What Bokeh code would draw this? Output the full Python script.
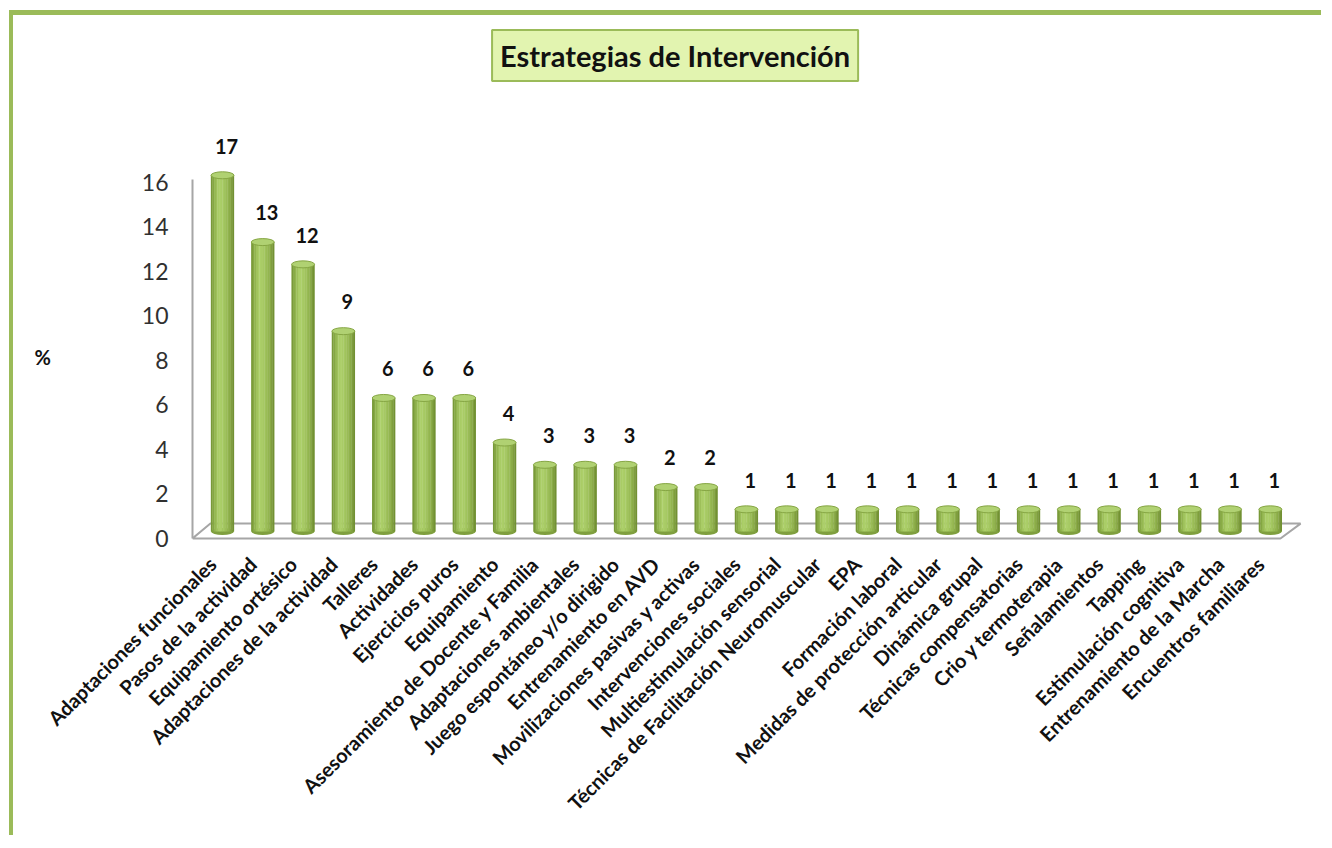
import numpy as np
from bokeh.plotting import figure
from bokeh.models import Range1d, FixedTicker, Label
from bokeh.core.properties import value
from bokeh.embed import file_html
from bokeh.resources import INLINE

# ---------------- data ----------------
categories = [
    "Adaptaciones funcionales",
    "Pasos de la actividad",
    "Equipamiento ortésico",
    "Adaptaciones de la actividad",
    "Talleres",
    "Actividades",
    "Ejercicios puros",
    "Equipamiento",
    "Asesoramiento de Docente y Familia",
    "Adaptaciones ambientales",
    "Juego espontáneo y/o dirigido",
    "Entrenamiento en AVD",
    "Movilizaciones pasivas y activas",
    "Intervenciones sociales",
    "Multiestimulación sensorial",
    "Técnicas de Facilitación Neuromuscular",
    "EPA",
    "Formación laboral",
    "Medidas de protección articular",
    "Dinámica grupal",
    "Técnicas compensatorias",
    "Crio y termoterapia",
    "Señalamientos",
    "Tapping",
    "Estimulación cognitiva",
    "Entrenamiento de la Marcha",
    "Encuentros familiares",
]
values = [16, 13, 12, 9, 6, 6, 6, 4, 3, 3, 3, 2, 2,
          1, 1, 1, 1, 1, 1, 1, 1, 1, 1, 1, 1, 1, 1]
value_labels = ["17", "13", "12", "9", "6", "6", "6", "4", "3", "3", "3", "2", "2",
                "1", "1", "1", "1", "1", "1", "1", "1", "1", "1", "1", "1", "1", "1"]
y_ticks = [0, 2, 4, 6, 8, 10, 12, 14, 16]
title_text = "Estrategias de Intervención"
y_label = "%"

# ---------------- style ----------------
GREEN = "#9bbb59"
GRAY = "#a6a6a6"
FONT = "Lato"
BAR_W = 0.57        # cylinder width (x units)
BASE = 0.31         # 3D depth offset of the cylinder base (y units)
CAP_H = 7           # ellipse cap height (px)
LABEL_UP = 1.62     # data label distance above bar (y units)
TICK_SHIFT = 0.25   # category labels sit slightly left of the bar centre

n = len(categories)
pos = np.arange(n, dtype=float)
vals = np.array(values, dtype=float)

p = figure(width=1312, height=825,
           x_range=Range1d(-0.744, 27.12), y_range=Range1d(-0.314, 23.26),
           output_backend="svg", toolbar_location=None,
           min_border_left=179, min_border_right=10,
           min_border_top=5, min_border_bottom=295)
p.styles = {"border-left": "4px solid " + GREEN, "border-top": "5px solid " + GREEN,
            "margin-left": "9px", "margin-top": "10px"}
p.outline_line_color = None
p.xgrid.visible = False
p.ygrid.visible = False
p.background_fill_color = "white"
p.border_fill_color = "white"

# floor of the 3D chart
floor_x = [-0.744, pos[-1] + 0.25, pos[-1] + 0.75, -0.30]
floor_y = [0, 0, 0.67, 0.67]
p.patch(floor_x, floor_y, fill_color=None, line_color=GRAY, line_width=2)

# cylinders
def hex2rgb(h):
    h = h.lstrip("#")
    return np.array([int(h[i:i + 2], 16) for i in (0, 2, 4)], dtype=float)

stops_u = [0.0, 0.15, 0.35, 0.55, 0.8, 1.0]
stops_c = [hex2rgb(c) for c in ["#729232", "#8db04a", "#aed16b", "#a5c862", "#8fb04b", "#6c8a2e"]]

def shade(u):
    rgb = [np.interp(u, stops_u, [c[k] for c in stops_c]) for k in range(3)]
    return "#%02x%02x%02x" % tuple(int(round(v)) for v in rgb)

# bottom cap
p.ellipse(x=pos, y=np.full(n, BASE), width=BAR_W, height=CAP_H,
          height_units="screen", fill_color="#7f9f3e", line_color=None)

N_STRIPES = 14
sw = BAR_W / N_STRIPES
for k in range(N_STRIPES):
    u = (k + 0.5) / N_STRIPES
    p.vbar(x=pos - BAR_W / 2 + sw * (k + 0.5), width=sw * 1.2,
           bottom=BASE, top=vals + BASE,
           fill_color=shade(u), line_color=None)

# top cap
p.ellipse(x=pos, y=vals + BASE, width=BAR_W, height=CAP_H,
          height_units="screen", fill_color="#b0d172", line_color="#86a644", line_width=1)

# value labels
p.text(x=pos, y=vals + LABEL_UP, text=value_labels, x_offset=4,
       text_align="center", text_baseline="middle",
       text_font=value(FONT), text_font_style="bold", text_font_size="20px",
       text_color="#111111")

# axes
tick_pos = [float(x - TICK_SHIFT) for x in pos]
p.xaxis.ticker = FixedTicker(ticks=tick_pos)
p.xaxis.major_label_overrides = {t: c for t, c in zip(tick_pos, categories)}
p.xaxis.major_label_orientation = np.pi / 4
p.xaxis.axis_line_color = None
p.xaxis.major_tick_line_color = None
p.xaxis.minor_tick_line_color = None
p.xaxis.major_tick_out = 0
p.xaxis.major_label_standoff = 15
p.xaxis.major_label_text_font = FONT
p.xaxis.major_label_text_font_style = "bold"
p.xaxis.major_label_text_font_size = "20px"
p.xaxis.major_label_text_color = "#111111"

p.yaxis.ticker = FixedTicker(ticks=y_ticks)
p.yaxis.bounds = (0, 16.1)
p.yaxis.axis_line_color = GRAY
p.yaxis.axis_line_width = 2
p.yaxis.major_tick_line_color = None
p.yaxis.minor_tick_line_color = None
p.yaxis.major_tick_out = 0
p.yaxis.major_tick_in = 0
p.yaxis.major_label_standoff = 24
p.yaxis.major_label_text_font = FONT
p.yaxis.major_label_text_font_size = "23px"
p.yaxis.major_label_text_color = "#303030"
# the axis label is centred on the frame; blank lines above push "%" down to the 8 level
p.yaxis.axis_label = "\n\n\n" + y_label
p.yaxis.axis_label_orientation = "horizontal"
p.yaxis.axis_label_text_line_height = 2.05
p.yaxis.axis_label_standoff = 88
p.yaxis.axis_label_text_font = FONT
p.yaxis.axis_label_text_font_style = "bold"
p.yaxis.axis_label_text_font_size = "20px"
p.yaxis.axis_label_text_color = "#111111"

# title box (shadow + box)
p.add_layout(Label(x=11.23, y=21.69, text=title_text, text_align="center",
                   text_baseline="middle", text_font=FONT, text_font_style="bold",
                   text_font_size="29px", text_alpha=0, padding=8,
                   background_fill_color="#b8b8b8", background_fill_alpha=0.5,
                   x_offset=2, y_offset=-4))
p.add_layout(Label(x=11.23, y=21.69, text=title_text, text_align="center",
                   text_baseline="middle", text_font=FONT, text_font_style="bold",
                   text_font_size="29px", text_color="#111111", padding=8,
                   background_fill_color="#e2f4b0", border_line_color=GREEN,
                   border_line_width=2))

open("out.html", "w").write(file_html(p, INLINE))
